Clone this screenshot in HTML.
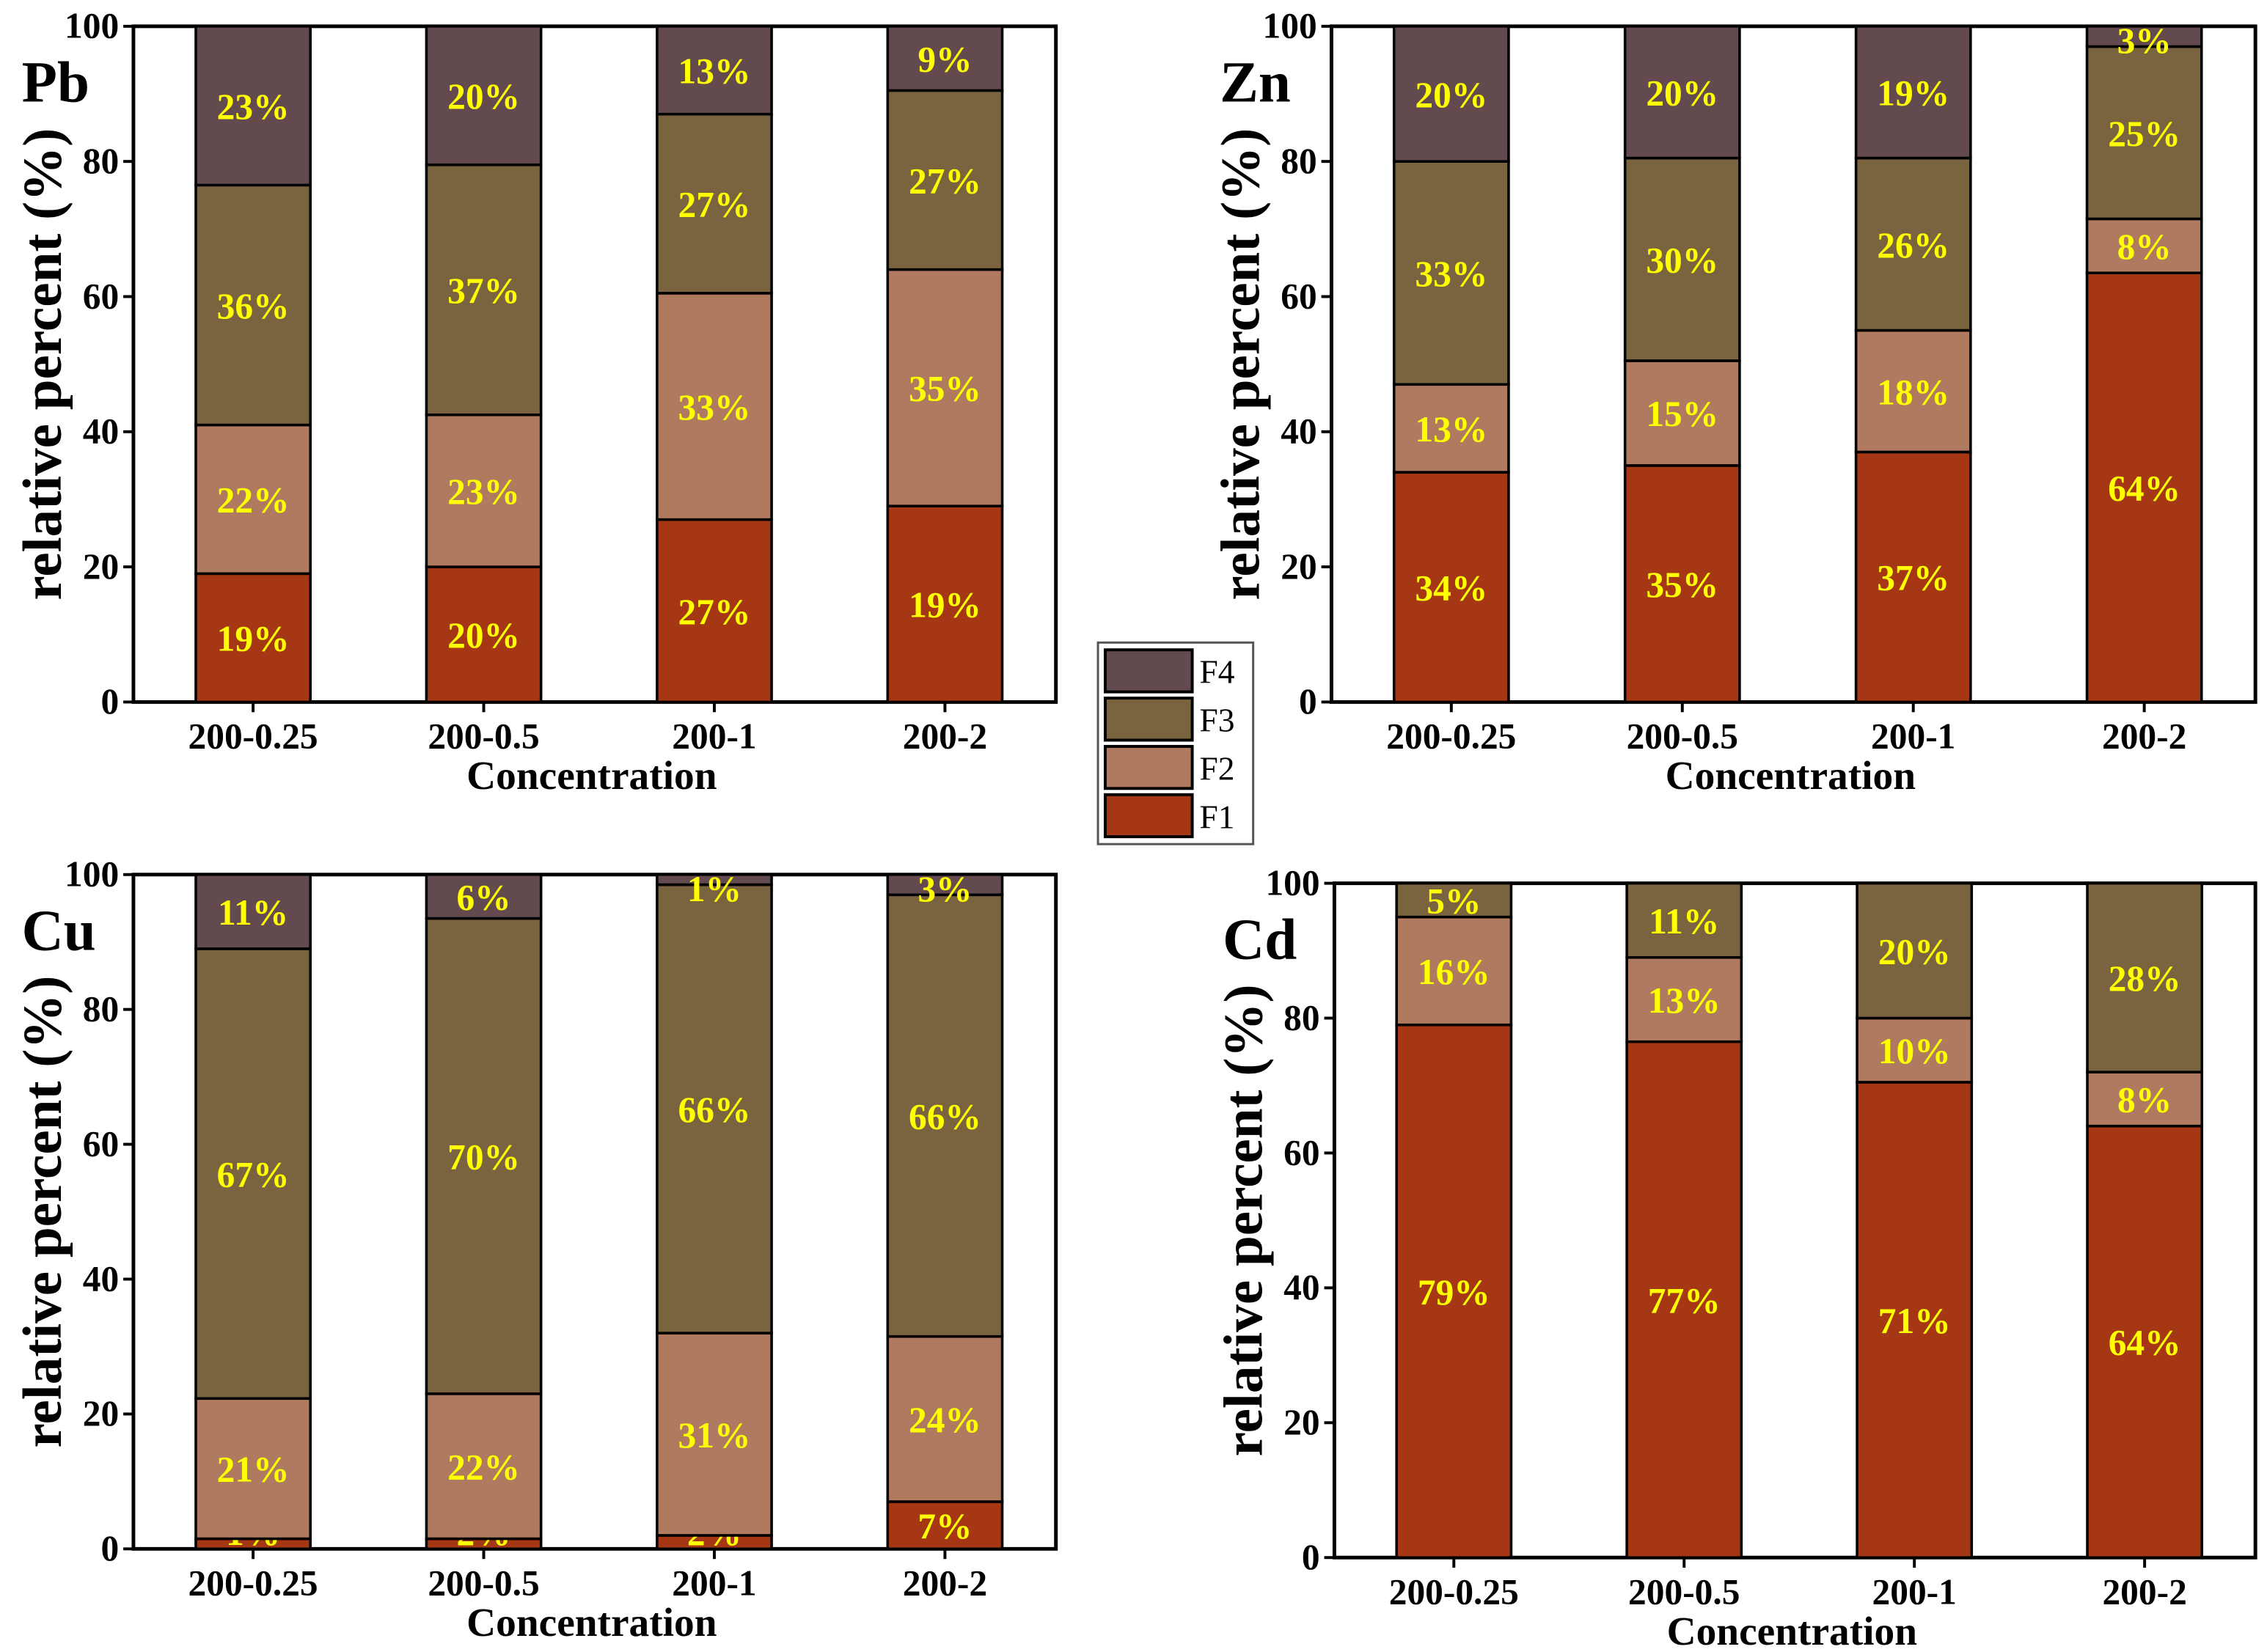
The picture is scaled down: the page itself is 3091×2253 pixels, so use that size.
<!DOCTYPE html>
<html><head><meta charset="utf-8"><style>
html,body{margin:0;padding:0;background:#fff}
svg{display:block}
text{font-family:"Liberation Serif",serif;font-weight:bold}
</style></head><body>
<svg id="chart" width="3091" height="2253" viewBox="0 0 1563 1139" xmlns="http://www.w3.org/2000/svg"></svg>
<script>
const categories = ["200-0.25","200-0.5","200-1","200-2"];
const fractions = ["F1","F2","F3","F4"];
const colors = ["#a53714","#b07a60","#7a6440","#634a4e"];
const yTicks = [0,20,40,60,80,100];
// Pb
const pbF1 = [19,20,27,29];
const pbF2 = [22,22.5,33.5,35];
const pbF3 = [35.5,37,26.5,26.5];
const pbF4 = [23.5,20.5,13,9.5];
const pbLabels = [["19%","20%","27%","19%"],["22%","23%","33%","35%"],["36%","37%","27%","27%"],["23%","20%","13%","9%"]];
// Zn
const znF1 = [34,35,37,63.5];
const znF2 = [13,15.5,18,8];
const znF3 = [33,30,25.5,25.5];
const znF4 = [20,19.5,19.5,3];
const znLabels = [["34%","35%","37%","64%"],["13%","15%","18%","8%"],["33%","30%","26%","25%"],["20%","20%","19%","3%"]];
// Cu
const cuF1 = [1.5,1.5,2,7];
const cuF2 = [20.8,21.5,30,24.5];
const cuF3 = [66.7,70.5,66.5,65.5];
const cuF4 = [11,6.5,1.5,3];
const cuLabels = [["1%","2%","2%","7%"],["21%","22%","31%","24%"],["67%","70%","66%","66%"],["11%","6%","1%","3%"]];
// Cd
const cdF1 = [79,76.5,70.5,64];
const cdF2 = [16,12.5,9.5,8];
const cdF3 = [5,11,20,28];
const cdF4 = [0,0,0,0];
const cdLabels = [["79%","77%","71%","64%"],["16%","13%","10%","8%"],["5%","11%","20%","28%"],["","","",""]];

const NS="http://www.w3.org/2000/svg";
const svg=document.getElementById('chart');
function mk(tag,attrs,parent){const e=document.createElementNS(NS,tag);for(const k in attrs)e.setAttribute(k,attrs[k]);(parent||svg).appendChild(e);return e;}

const panels=[
 {name:"pb",title:"Pb",x0:92,x1:728,y0:484,y1:18,series:[pbF1,pbF2,pbF3,pbF4],labels:pbLabels},
 {name:"zn",title:"Zn",x0:918,x1:1555,y0:484,y1:18,series:[znF1,znF2,znF3,znF4],labels:znLabels},
 {name:"cu",title:"Cu",x0:92,x1:728,y0:1068,y1:603,series:[cuF1,cuF2,cuF3,cuF4],labels:cuLabels},
 {name:"cd",title:"Cd",x0:920,x1:1555,y0:1074,y1:609,series:[cdF1,cdF2,cdF3,cdF4],labels:cdLabels}
];
panels.forEach(p=>{
  const g=mk('g',{});
  
  
  const yS=v=>p.y0+(p.y1-p.y0)*v/100;
  const step=(p.x1-p.x0)/4;
  const xS=i=>p.x0+step*(i+0.5)+3;
  const bw=79;
  const frame=mk('rect',{x:p.x0,y:p.y1,width:p.x1-p.x0,height:p.y0-p.y1,fill:'none',stroke:'#000','stroke-width':2.5},g);
  
  
  categories.forEach((c,i)=>{
    let base=0;
    p.series.forEach((s,k)=>{
      const v=s[i]; if(v<=0) return;
      const r=mk('rect',{x:xS(i)-bw/2,y:yS(base+v),width:bw,height:yS(base)-yS(base+v),fill:colors[k],stroke:'#000','stroke-width':1.8},g);
      
      
      const lb=p.labels[k][i];
      if(lb){
        let mid=base+v/2;
        if(k===0) mid=Math.max(mid,2.5);
        if(mid>98) mid=98;
        const t=mk('text',{x:xS(i),y:yS(mid)+9,'text-anchor':'middle','font-size':25,fill:'#ffff00'},g);
        t.textContent=lb;
        
        
      }
      base+=v;
    });
    mk('line',{x1:xS(i),x2:xS(i),y1:p.y0,y2:p.y0+7,stroke:'#000','stroke-width':2},g);
    const tl=mk('text',{x:xS(i),y:p.y0+32,'text-anchor':'middle','font-size':25,fill:'#000'},g);
    tl.textContent=c;
    
    
  });
  yTicks.forEach(v=>{
    mk('line',{x1:p.x0-7,x2:p.x0,y1:yS(v),y2:yS(v),stroke:'#000','stroke-width':2},g);
    const t=mk('text',{x:p.x0-10,y:yS(v)+8,'text-anchor':'end','font-size':25,fill:'#000'},g);
    t.textContent=v;
    
    
  });
  const xt=mk('text',{x:(p.x0+p.x1)/2-2,y:p.y0+60,'text-anchor':'middle','font-size':28,fill:'#000'},g);
  xt.textContent='Concentration';
  
  
  const cy=(p.y0+p.y1)/2;
  const yt=mk('text',{x:p.x0-50,y:cy,'text-anchor':'middle','font-size':38,fill:'#000',transform:'rotate(-90 '+(p.x0-50)+' '+cy+')'},g);
  yt.textContent='relative percent (%)';
  
  
  const et=mk('text',{x:p.x0-77,y:p.y1+52,'font-size':40,fill:'#000'},g);
  et.textContent=p.title;
  
  
});
// legend
const lg=mk('g',{});


mk('rect',{x:757,y:443,width:107,height:139,fill:'#fff',stroke:'#555','stroke-width':1.5},lg);
[3,2,1,0].forEach((k,j)=>{
  const y=448+j*33.3;
  const sw=mk('rect',{x:762,y:y,width:60,height:29,fill:colors[k],stroke:'#000','stroke-width':2},lg);
  
  
  const t=mk('text',{x:827,y:y+23,'font-size':23,fill:'#000'},lg);
  t.style.fontWeight='normal';
  t.textContent=fractions[k];
  
  
});
</script>
</body></html>
